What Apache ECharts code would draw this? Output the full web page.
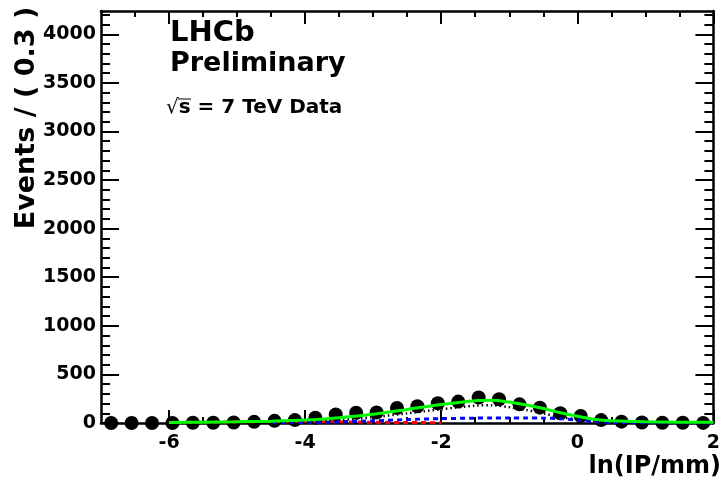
<!DOCTYPE html>
<html>
<head>
<meta charset="utf-8">
<script src="https://cdn.jsdelivr.net/npm/echarts@6/dist/echarts.min.js"></script>
<style>html,body{margin:0;padding:0;background:#fff;}#c{width:723px;height:485px;}</style>
</head>
<body>
<div id="c"></div>
<script>
// ---- data ----
const binCenters = [-6.85,-6.55,-6.25,-5.95,-5.65,-5.35,-5.05,-4.75,-4.45,-4.15,-3.85,-3.55,-3.25,-2.95,-2.65,-2.35,-2.05,-1.75,-1.45,-1.15,-0.85,-0.55,-0.25,0.05,0.35,0.65,0.95,1.25,1.55,1.85];
const dataCounts = [0,0,0,0,2,3,5,12,22,30,55,88,105,108,155,172,203,220,262,245,192,158,100,72,30,14,5,3,2,1];

const curveX      = [-6.0,-5.5,-5.0,-4.5,-4.0,-3.5,-3.0,-2.5,-2.0,-1.5,-1.25,-1.0,-0.75,-0.5,-0.25,0.0,0.25,0.5,1.0,1.5,2.0];
const totalFit    = [5,8,12,18,30,55,90,140,190,230,235,215,185,150,105,70,38,22,12,9,7];
const redComp     = [5,8,12,15,15,12,8,5,3,null,null,null,null,null,null,null,null,null,null,null,null];
const blueComp    = [null,null,null,2,5,12,22,36,45,50,51,52,51,50,45,30,15,6,2,1,1];
const dottedComp  = [null,null,null,1,10,30,60,99,142,179,183,163,134,100,60,40,23,16,10,8,6];

const xMajorTicks = [-6,-4,-2,0,2];
const yMajorTicks = [0,500,1000,1500,2000,2500,3000,3500,4000];
const xTitle = 'ln(IP/mm)';
const yTitle = 'Events / ( 0.3 )';

// ---- build ----
const xMinor = [];
for (let v = -6.5; v < 2; v += 0.5) if (!xMajorTicks.includes(v)) xMinor.push(v);
const yMinor = [];
for (let v = 100; v <= 4200; v += 100) if (v % 500 !== 0) yMinor.push(v);

const FONT = 'DejaVu Sans';
const X_MIN = -7, X_MAX = 2, Y_MIN = 0, Y_MAX = 4240;

function xAx(pos, custom, len, showLine, showLabel) {
  return {
    type: 'value', position: pos, min: X_MIN, max: X_MAX,
    axisLine: {show: showLine, onZero: false, lineStyle: {color: '#000', width: 2.5}},
    axisTick: {show: true, inside: true, length: len, customValues: custom, lineStyle: {color: '#000', width: 2}},
    axisLabel: showLabel ? {show: true, customValues: custom, margin: 11, color: '#000',
      fontFamily: FONT, fontWeight: 'bold', fontSize: 19, formatter: v => String(v)} : {show: false},
    splitLine: {show: false}
  };
}
function yAx(pos, custom, len, showLine, showLabel) {
  return {
    type: 'value', position: pos, min: Y_MIN, max: Y_MAX,
    axisLine: {show: showLine, onZero: false, lineStyle: {color: '#000', width: 2.5}},
    axisTick: {show: true, inside: true, length: len, customValues: custom, lineStyle: {color: '#000', width: 2}},
    axisLabel: showLabel ? {show: true, customValues: custom, margin: 5, color: '#000',
      fontFamily: FONT, fontWeight: 'bold', fontSize: 19, formatter: v => String(v)} : {show: false},
    splitLine: {show: false}
  };
}
function pairs(xs, ys) { return xs.map((x, i) => [x, ys[i]]).filter(p => p[1] !== null); }

const chart = echarts.init(document.getElementById('c'));
chart.setOption({
  animation: false,
  backgroundColor: '#fff',
  grid: {left: 101, right: 2, top: 11, bottom: 62, containLabel: false},
  xAxis: [
    xAx('bottom', xMajorTicks, 13, true, true),
    xAx('bottom', xMinor, 6, false, false),
    xAx('top', xMajorTicks, 13, true, false),
    xAx('top', xMinor, 6, false, false)
  ],
  yAxis: [
    yAx('left', yMajorTicks, 18, true, true),
    yAx('left', yMinor, 9, false, false),
    yAx('right', yMajorTicks, 18, true, false),
    yAx('right', yMinor, 9, false, false)
  ],
  series: [
    {type: 'scatter', data: pairs(binCenters, dataCounts), symbol: 'circle', symbolSize: 14,
      itemStyle: {color: '#000', opacity: 1}, z: 3},
    {type: 'line', data: pairs(curveX, redComp), smooth: 0.3, showSymbol: false,
      lineStyle: {color: '#ff0000', width: 3, type: [5, 4]}, z: 4},
    {type: 'line', data: pairs(curveX, blueComp), smooth: 0.3, showSymbol: false,
      lineStyle: {color: '#0000ff', width: 3, type: [5, 4]}, z: 4},
    {type: 'line', data: pairs(curveX, dottedComp), smooth: 0.3, showSymbol: false,
      lineStyle: {color: '#000', width: 2.5, type: [1.5, 3]}, z: 4},
    {type: 'line', data: pairs(curveX, totalFit), smooth: 0.3, showSymbol: false,
      lineStyle: {color: '#00ff00', width: 3}, z: 5}
  ],
  graphic: [
    {type: 'text', left: 170, top: 19, style: {text: 'LHCb', fontFamily: FONT, fontWeight: 'bold', fontSize: 29, fill: '#000'}},
    {type: 'text', left: 170, top: 50, style: {text: 'Preliminary', fontFamily: FONT, fontWeight: 'bold', fontSize: 27, fill: '#000'}},
    {type: 'text', left: 166, top: 98, style: {
      text: '{r|√}{b|s = 7 TeV Data}',
      rich: {r: {fontFamily: FONT, fontSize: 20, fill: '#000'}, b: {fontFamily: FONT, fontWeight: 'bold', fontSize: 20, fill: '#000'}}}},
    {type: 'line', shape: {x1: 178, y1: 99, x2: 191, y2: 99}, style: {stroke: '#000', lineWidth: 1}},
    {type: 'text', right: 2, top: 455, style: {text: xTitle, fontFamily: FONT, fontWeight: 'bold', fontSize: 24, fill: '#000'}},
    {type: 'text', x: 27, y: 118, rotation: Math.PI / 2,
      style: {text: yTitle, fontFamily: FONT, fontWeight: 'bold', fontSize: 27, fill: '#000', align: 'center', verticalAlign: 'middle'}}
  ]
});
</script>
</body>
</html>
